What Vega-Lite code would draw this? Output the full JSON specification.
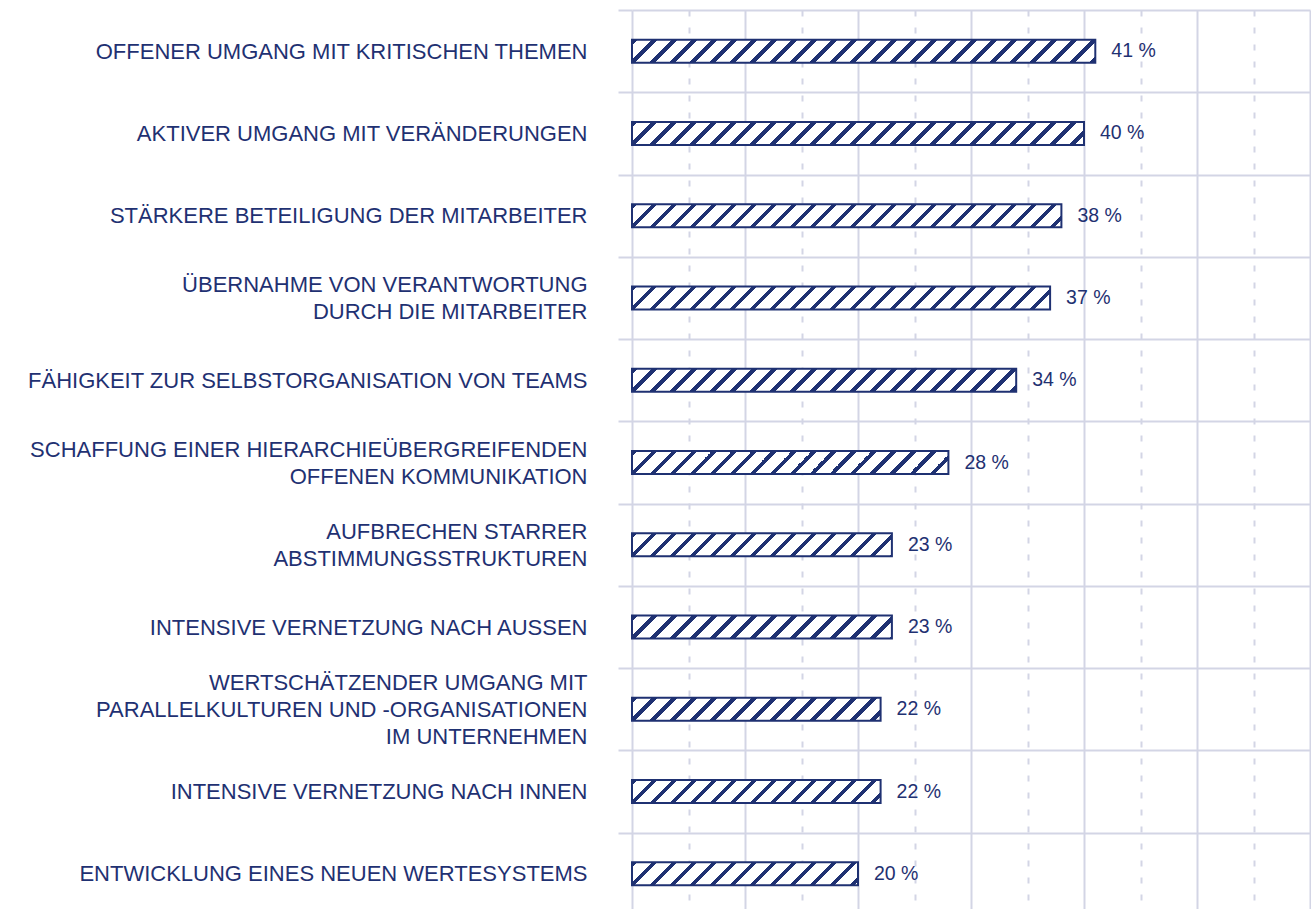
{
  "$schema": "https://vega.github.io/schema/vega-lite/v6.json",
  "usermeta": {"embedOptions": {"actions": false}},
  "autosize": {"type": "none"},
  "padding": {"left": 632, "top": 10, "right": 1, "bottom": 0},
  "width": 678,
  "height": 899,
  "background": "#ffffff",
  "config": {"view": {"stroke": null}},
  "params": [
    {"name": "hatch", "value": [
      {"offset": 0, "color": "#1f3172"}, {"offset": 0.011, "color": "#1f3172"}, {"offset": 0.011, "color": "#ffffff"}, {"offset": 0.04, "color": "#ffffff"},
      {"offset": 0.04, "color": "#1f3172"}, {"offset": 0.051, "color": "#1f3172"}, {"offset": 0.051, "color": "#ffffff"}, {"offset": 0.08, "color": "#ffffff"},
      {"offset": 0.08, "color": "#1f3172"}, {"offset": 0.091, "color": "#1f3172"}, {"offset": 0.091, "color": "#ffffff"}, {"offset": 0.12, "color": "#ffffff"},
      {"offset": 0.12, "color": "#1f3172"}, {"offset": 0.131, "color": "#1f3172"}, {"offset": 0.131, "color": "#ffffff"}, {"offset": 0.16, "color": "#ffffff"},
      {"offset": 0.16, "color": "#1f3172"}, {"offset": 0.171, "color": "#1f3172"}, {"offset": 0.171, "color": "#ffffff"}, {"offset": 0.2, "color": "#ffffff"},
      {"offset": 0.2, "color": "#1f3172"}, {"offset": 0.211, "color": "#1f3172"}, {"offset": 0.211, "color": "#ffffff"}, {"offset": 0.24, "color": "#ffffff"},
      {"offset": 0.24, "color": "#1f3172"}, {"offset": 0.251, "color": "#1f3172"}, {"offset": 0.251, "color": "#ffffff"}, {"offset": 0.28, "color": "#ffffff"},
      {"offset": 0.28, "color": "#1f3172"}, {"offset": 0.291, "color": "#1f3172"}, {"offset": 0.291, "color": "#ffffff"}, {"offset": 0.32, "color": "#ffffff"},
      {"offset": 0.32, "color": "#1f3172"}, {"offset": 0.331, "color": "#1f3172"}, {"offset": 0.331, "color": "#ffffff"}, {"offset": 0.36, "color": "#ffffff"},
      {"offset": 0.36, "color": "#1f3172"}, {"offset": 0.371, "color": "#1f3172"}, {"offset": 0.371, "color": "#ffffff"}, {"offset": 0.4, "color": "#ffffff"},
      {"offset": 0.4, "color": "#1f3172"}, {"offset": 0.411, "color": "#1f3172"}, {"offset": 0.411, "color": "#ffffff"}, {"offset": 0.44, "color": "#ffffff"},
      {"offset": 0.44, "color": "#1f3172"}, {"offset": 0.451, "color": "#1f3172"}, {"offset": 0.451, "color": "#ffffff"}, {"offset": 0.48, "color": "#ffffff"},
      {"offset": 0.48, "color": "#1f3172"}, {"offset": 0.491, "color": "#1f3172"}, {"offset": 0.491, "color": "#ffffff"}, {"offset": 0.52, "color": "#ffffff"},
      {"offset": 0.52, "color": "#1f3172"}, {"offset": 0.531, "color": "#1f3172"}, {"offset": 0.531, "color": "#ffffff"}, {"offset": 0.56, "color": "#ffffff"},
      {"offset": 0.56, "color": "#1f3172"}, {"offset": 0.571, "color": "#1f3172"}, {"offset": 0.571, "color": "#ffffff"}, {"offset": 0.6, "color": "#ffffff"},
      {"offset": 0.6, "color": "#1f3172"}, {"offset": 0.611, "color": "#1f3172"}, {"offset": 0.611, "color": "#ffffff"}, {"offset": 0.64, "color": "#ffffff"},
      {"offset": 0.64, "color": "#1f3172"}, {"offset": 0.651, "color": "#1f3172"}, {"offset": 0.651, "color": "#ffffff"}, {"offset": 0.68, "color": "#ffffff"},
      {"offset": 0.68, "color": "#1f3172"}, {"offset": 0.691, "color": "#1f3172"}, {"offset": 0.691, "color": "#ffffff"}, {"offset": 0.72, "color": "#ffffff"},
      {"offset": 0.72, "color": "#1f3172"}, {"offset": 0.731, "color": "#1f3172"}, {"offset": 0.731, "color": "#ffffff"}, {"offset": 0.76, "color": "#ffffff"},
      {"offset": 0.76, "color": "#1f3172"}, {"offset": 0.771, "color": "#1f3172"}, {"offset": 0.771, "color": "#ffffff"}, {"offset": 0.8, "color": "#ffffff"},
      {"offset": 0.8, "color": "#1f3172"}, {"offset": 0.811, "color": "#1f3172"}, {"offset": 0.811, "color": "#ffffff"}, {"offset": 0.84, "color": "#ffffff"},
      {"offset": 0.84, "color": "#1f3172"}, {"offset": 0.851, "color": "#1f3172"}, {"offset": 0.851, "color": "#ffffff"}, {"offset": 0.88, "color": "#ffffff"},
      {"offset": 0.88, "color": "#1f3172"}, {"offset": 0.891, "color": "#1f3172"}, {"offset": 0.891, "color": "#ffffff"}, {"offset": 0.92, "color": "#ffffff"},
      {"offset": 0.92, "color": "#1f3172"}, {"offset": 0.931, "color": "#1f3172"}, {"offset": 0.931, "color": "#ffffff"}, {"offset": 0.96, "color": "#ffffff"},
      {"offset": 0.96, "color": "#1f3172"}, {"offset": 0.971, "color": "#1f3172"}, {"offset": 0.971, "color": "#ffffff"}, {"offset": 1, "color": "#ffffff"}
    ]}
  ],
  "data": {"values": [
    {"item": "OFFENER UMGANG MIT KRITISCHEN THEMEN", "pct": 41},
    {"item": "AKTIVER UMGANG MIT VERÄNDERUNGEN", "pct": 40},
    {"item": "STÄRKERE BETEILIGUNG DER MITARBEITER", "pct": 38},
    {"item": "ÜBERNAHME VON VERANTWORTUNG\nDURCH DIE MITARBEITER", "pct": 37},
    {"item": "FÄHIGKEIT ZUR SELBSTORGANISATION VON TEAMS", "pct": 34},
    {"item": "SCHAFFUNG EINER HIERARCHIEÜBERGREIFENDEN\nOFFENEN KOMMUNIKATION", "pct": 28},
    {"item": "AUFBRECHEN STARRER\nABSTIMMUNGSSTRUKTUREN", "pct": 23},
    {"item": "INTENSIVE VERNETZUNG NACH AUSSEN", "pct": 23},
    {"item": "WERTSCHÄTZENDER UMGANG MIT\nPARALLELKULTUREN UND -ORGANISATIONEN\nIM UNTERNEHMEN", "pct": 22},
    {"item": "INTENSIVE VERNETZUNG NACH INNEN", "pct": 22},
    {"item": "ENTWICKLUNG EINES NEUEN WERTESYSTEMS", "pct": 20}
  ]},
  "encoding": {
    "y": {
      "field": "item", "type": "nominal", "sort": null,
      "scale": {"range": [0, 905], "paddingInner": 0, "paddingOuter": 0},
      "axis": {
        "orient": "left", "title": null, "domain": false,
        "tickBand": "extent", "ticks": true, "tickSize": 14, "tickColor": "#d3d5e5", "tickWidth": 2,
        "grid": true, "gridColor": "#d3d5e5", "gridWidth": 2,
        "labelExpr": "split(datum.label, '\\n')",
        "labelFont": "Liberation Sans", "labelFontSize": 22, "labelColor": "#1f3172",
        "labelPadding": 31, "labelLimit": 700, "labelLineHeight": 27,
        "labelOffset": {
          "condition": [
            {"test": "length(split(datum.label, '\\n')) == 3", "value": -27},
            {"test": "length(split(datum.label, '\\n')) == 2", "value": -13.5}
          ],
          "value": 0
        }
      }
    },
    "x": {
      "field": "pct", "type": "quantitative",
      "scale": {"domain": [0, 60], "nice": false},
      "axis": {
        "orient": "top", "title": null, "values": [0, 5, 10, 15, 20, 25, 30, 35, 40, 45, 50, 55, 60],
        "labels": false, "ticks": false, "domain": false,
        "grid": true, "gridColor": "#d3d5e5", "gridWidth": 2,
        "gridDash": {"condition": {"test": "datum.value % 10 !== 0", "value": [6, 11]}, "value": []}
      }
    }
  },
  "layer": [
    {
      "mark": {
        "type": "bar", "size": 23, "stroke": "#1f3172", "strokeWidth": 2,
        "fill": {"expr": "{gradient: 'linear', x1: 0, y1: 0, x2: 500/(datum.pct*11.3*(1+pow(23/(datum.pct*11.3),2))), y2: 500*23/(pow(datum.pct*11.3,2)*(1+pow(23/(datum.pct*11.3),2))), stops: hatch}"}
      }
    },
    {
      "mark": {
        "type": "text", "align": "left", "baseline": "middle", "dx": 16,
        "font": "Liberation Sans", "fontSize": 19.5, "color": "#1f3172",
        "text": {"expr": "datum.pct + ' %'"}
      }
    }
  ]
}
